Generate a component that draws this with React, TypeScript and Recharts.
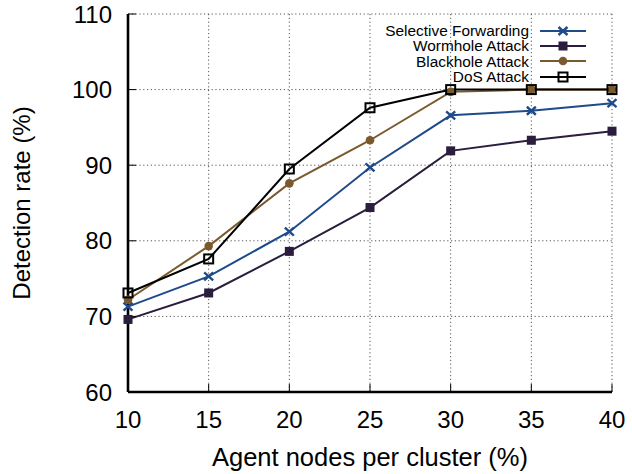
import React from "react"
import { LineChart, Line, XAxis, YAxis, CartesianGrid, Legend } from "recharts"

// Agent node share per cluster (%) on the x axis
const agentNodes = [10, 15, 20, 25, 30, 35, 40]

// Detection rate (%) per attack type
const selectiveForwarding = [71.3, 75.3, 81.2, 89.7, 96.6, 97.2, 98.2]
const wormhole = [69.6, 73.1, 78.6, 84.4, 91.9, 93.3, 94.5]
const blackhole = [72.2, 79.3, 87.6, 93.3, 99.7, 100, 100]
const dos = [73.1, 77.6, 89.5, 97.6, 100, 100, 100]

const xTicks = [10, 15, 20, 25, 30, 35, 40]
const yTicks = [60, 70, 80, 90, 100, 110]

const data = agentNodes.map((x, i) => ({
  x,
  selective: selectiveForwarding[i],
  wormhole: wormhole[i],
  blackhole: blackhole[i],
  dos: dos[i],
}))

type MarkerKind = "cross" | "square" | "circle" | "openSquare"

const series: { key: string; name: string; color: string; marker: MarkerKind }[] = [
  { key: "selective", name: "Selective Forwarding", color: "#1f4b8a", marker: "cross" },
  { key: "wormhole", name: "Wormhole Attack", color: "#2a1d3e", marker: "square" },
  { key: "blackhole", name: "Blackhole Attack", color: "#7a5a2c", marker: "circle" },
  { key: "dos", name: "DoS Attack", color: "#000000", marker: "openSquare" },
]

const FONT = "'Liberation Sans', Arial, Helvetica, sans-serif"

function Marker({ kind, cx, cy, color }: { kind: MarkerKind; cx: number; cy: number; color: string }) {
  if (cx == null || cy == null) return null
  switch (kind) {
    case "cross":
      return (
        <g stroke={color} strokeWidth={2.4}>
          <line x1={cx - 4.5} y1={cy - 4} x2={cx + 4.5} y2={cy + 4} />
          <line x1={cx - 4.5} y1={cy + 4} x2={cx + 4.5} y2={cy - 4} />
        </g>
      )
    case "square":
      return <rect x={cx - 4.5} y={cy - 4.5} width={9} height={9} fill={color} />
    case "circle":
      return <circle cx={cx} cy={cy} r={4.3} fill={color} />
    default:
      return <rect x={cx - 4.5} y={cy - 4.5} width={9} height={9} fill="none" stroke={color} strokeWidth={2} />
  }
}

function LegendBox() {
  return (
    <div style={{ fontFamily: FONT, fontSize: 15.4, lineHeight: "15.4px", color: "#000" }}>
      {series.map((s) => (
        <div key={s.key} style={{ display: "flex", justifyContent: "flex-end", alignItems: "center", height: 15.4 }}>
          <span style={{ whiteSpace: "nowrap" }}>{s.name}</span>
          <svg width={48} height={14} style={{ marginLeft: 10, display: "block" }}>
            <line x1={1} y1={7} x2={47} y2={7} stroke={s.color} strokeWidth={2} />
            <Marker kind={s.marker} cx={24} cy={7} color={s.color} />
          </svg>
        </div>
      ))}
    </div>
  )
}

function YTitle({ viewBox }: any) {
  const cx = viewBox.x + 21
  const cy = viewBox.y + viewBox.height / 2
  return (
    <text
      x={cx}
      y={cy}
      transform={`rotate(-90 ${cx} ${cy})`}
      textAnchor="middle"
      dominantBaseline="central"
      fontFamily={FONT}
      fontSize={24}
      fill="#000"
    >
      Detection rate (%)
    </text>
  )
}

const tickStyle = { fontFamily: FONT, fontSize: 24, fill: "#000" }

export default function App() {
  return (
    <div style={{ position: "absolute", left: 0, top: 0, width: 632, height: 474, background: "#fff" }}>
      <LineChart width={632} height={474} data={data} margin={{ top: 14, right: 20, bottom: 0, left: 0 }}>
        <CartesianGrid
          xAxisId="main"
          yAxisId="main"
          stroke="#555"
          strokeDasharray="1.2 2.6"
          horizontalValues={yTicks}
          verticalValues={xTicks}
        />
        <XAxis
          xAxisId="main"
          dataKey="x"
          type="number"
          domain={[10, 40]}
          ticks={xTicks}
          height={82}
          tick={tickStyle}
          tickSize={-8}
          tickMargin={27}
          axisLine={{ stroke: "#000", strokeWidth: 2.6 }}
          tickLine={{ stroke: "#000", strokeWidth: 1 }}
          label={{
            value: "Agent nodes per cluster (%)",
            position: "insideBottom",
            offset: 8,
            style: { fontFamily: FONT, fontSize: 25.5, fill: "#000" },
          }}
        />
        <XAxis
          xAxisId="top"
          orientation="top"
          dataKey="x"
          type="number"
          domain={[10, 40]}
          ticks={xTicks}
          height={0}
          tick={false}
          tickSize={-8}
          axisLine={{ stroke: "#000", strokeWidth: 2.6 }}
          tickLine={{ stroke: "#000", strokeWidth: 1 }}
        />
        <YAxis
          yAxisId="main"
          type="number"
          domain={[60, 110]}
          ticks={yTicks}
          width={128}
          tick={tickStyle}
          tickSize={-8}
          tickMargin={24}
          axisLine={{ stroke: "#000", strokeWidth: 2.6 }}
          tickLine={{ stroke: "#000", strokeWidth: 1 }}
          label={{ content: YTitle }}
        />
        <YAxis
          yAxisId="right"
          orientation="right"
          type="number"
          domain={[60, 110]}
          ticks={yTicks}
          width={0}
          tick={false}
          tickSize={-8}
          axisLine={{ stroke: "#000", strokeWidth: 2.6 }}
          tickLine={{ stroke: "#000", strokeWidth: 1 }}
        />
        <Legend
          layout="horizontal"
          verticalAlign="bottom"
          content={() => <LegendBox />}
          wrapperStyle={{ position: "absolute", top: 23, left: 357, width: 230, height: 0, overflow: "visible" }}
        />
        {series.map((s) => (
          <Line
            key={s.key}
            xAxisId="main"
            yAxisId="main"
            dataKey={s.key}
            name={s.name}
            stroke={s.color}
            strokeWidth={2}
            isAnimationActive={false}
            dot={(p: any) => <Marker key={`${s.key}-${p.index}`} kind={s.marker} cx={p.cx} cy={p.cy} color={s.color} />}
            activeDot={false}
          />
        ))}
      </LineChart>
    </div>
  )
}
